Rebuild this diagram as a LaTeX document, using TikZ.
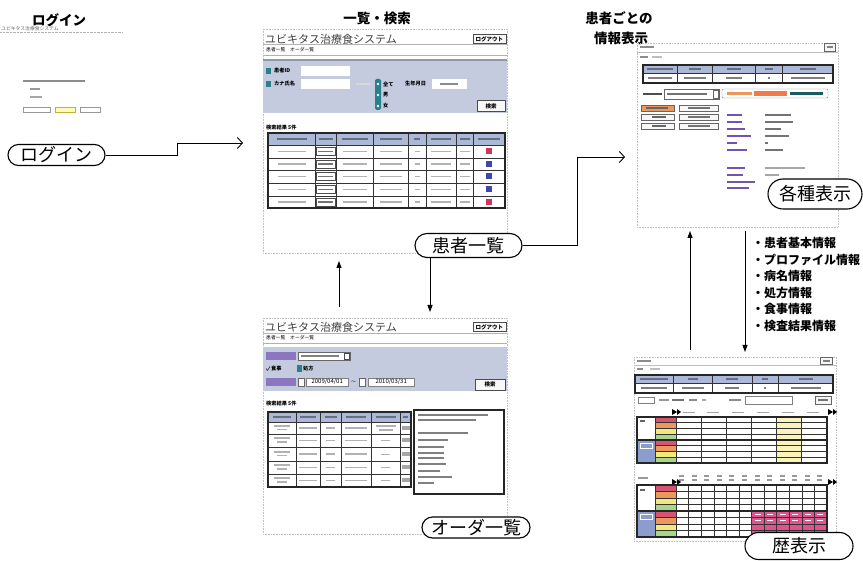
\documentclass[tikz,border=0pt]{standalone}
\usepackage{fontspec}
\setmainfont{Noto Sans CJK JP}
\usetikzlibrary{arrows.meta,shapes.misc}
\definecolor{panelblue}{RGB}{196,203,222}
\definecolor{headblue}{RGB}{172,184,216}
\definecolor{tealc}{RGB}{40,128,140}
\definecolor{purp}{RGB}{112,84,176}
\definecolor{swred}{RGB}{208,52,92}
\definecolor{swblue}{RGB}{62,72,172}
\definecolor{pinkc}{RGB}{226,82,142}
\definecolor{orangec}{RGB}{236,152,92}
\definecolor{yellowc}{RGB}{244,232,120}
\definecolor{greenc}{RGB}{168,214,140}
\definecolor{redc}{RGB}{214,84,112}
\definecolor{lyellow}{RGB}{250,244,186}
\definecolor{labblue}{RGB}{140,156,204}
\newcommand\mybar[4][gray!55]{\fill[#1] (#2,{#3-0.9}) rectangle ++(#4,1.8);}
\tikzset{
  pill/.style={draw=black, line width=1.1pt, rounded rectangle, fill=white, inner sep=0pt, font=\fontsize{18}{18}\selectfont},
  ttl/.style={font=\bfseries\fontsize{13.5}{14}\selectfont, inner sep=0pt},
  shot/.style={draw=gray!50, densely dotted, line width=0.6pt},
  conn/.style={line width=0.9pt, -{Straight Barb[length=5pt,width=11pt]}},
  vconn/.style={line width=0.9pt, -{Triangle[length=7pt,width=5pt]}},
  apptitle/.style={font=\fontsize{11}{12}\selectfont, text=black!75, inner sep=0pt, anchor=west},
  tinyt/.style={font=\fontsize{4.8}{5}\selectfont, inner sep=0pt, anchor=west},
  tinyb/.style={font=\bfseries\fontsize{5.2}{5.5}\selectfont, inner sep=0pt, anchor=west},
  btn/.style={draw=black!70, fill=gray!6, line width=0.5pt, inner sep=0pt, font=\bfseries\fontsize{5.5}{6}\selectfont},
  tline/.style={draw=black!80, line width=0.5pt},
  tborder/.style={draw=black!85, line width=1.3pt},
}
\begin{document}
\begin{tikzpicture}[x=1pt,y=-1pt]
\useasboundingbox[fill=white] (0,0) rectangle (863,561);

%================ titles
\node[ttl] (h1) at (59,20) {ログイン};
\node[ttl] (h2) at (377,18) {一覧・検索};
\node[ttl] (h3) at (619,18) {患者ごとの};
\node[ttl] (h4) at (621,38) {情報表示};

%================ login screen
\node[tinyt, text=black!60] (lt) at (1,29) {ユビキタス治療食システム};
\draw[gray!60, densely dotted] (0,32) -- (123,32);
\mybar[black!45]{23}{81}{62}
\mybar[black!40]{30}{89}{10}
\mybar[black!35]{30}{97}{12}
\draw[black!40, line width=0.3pt] (23,107) rectangle (50,112);
\draw[yellow!70!black, fill=yellow!30, line width=0.3pt] (55,107) rectangle (75,112);
\draw[black!40, line width=0.3pt] (80,107) rectangle (100,112);

%================ list / search screen
\draw[shot] (263,29) rectangle (507,253);
\node[apptitle] (t1) at (265,39) {ユビキタス治療食システム};
\node[btn, minimum width=33pt, minimum height=9pt, anchor=east] (lo1) at (506,39) {ログアウト};
\draw[gray!60] (263,44.5) -- (507,44.5);
\node[tinyt] (m1) at (266,50) {患者一覧　オーダ一覧};
\draw[gray!60] (263,55) -- (507,55);
\fill[panelblue] (263,59) rectangle (507,113);
\fill[panelblue!75!black] (263,59) rectangle (507,61);
\fill[tealc] (266,68) rectangle ++(5,6);
\node[tinyb] (l1) at (274,71) {患者ID};
\fill[white] (301,66) rectangle (350,76);
\fill[tealc] (266,81) rectangle ++(5,6);
\node[tinyb] (l2) at (274,84) {カナ氏名};
\fill[white] (301,79) rectangle (350,89);
\mybar[white!70!gray]{356}{84}{14}
\fill[tealc, rounded corners=1.5pt] (375,79) rectangle (381,110);
\foreach \yy in {84,95,106} {\fill[white] (378,\yy) circle (1.3);}
\node[tinyb] (l3) at (383,84) {全て};
\node[tinyb] (l4) at (383,95) {男};
\node[tinyb] (l5) at (383,106) {女};
\node[tinyb] (l6) at (405,84) {生年月日};
\fill[white] (432,79) rectangle (467,89);
\mybar[black!45]{440}{84}{18}
\node[btn, minimum width=28pt, minimum height=11pt] (s1) at (491,106) {検索};
\node[tinyb] (r1) at (266,128) {検索結果 5件};
\fill[headblue] (268,133) rectangle (505,145);
\foreach \y in {145,158,170,183,196} {\draw[tline] (268,\y) -- (505,\y);}
\foreach \x in {315,336,373,408,426,456,473} {\draw[tline] (\x,133) -- (\x,208);}
\foreach \cx/\w in {291.5/30,325.5/14,354.5/26,390.5/22,417/6,441/20,464.5/10,489/22}
  {\fill[black!40!headblue] ({\cx-\w/2},138) rectangle ({\cx+\w/2},140);}
\foreach \cx/\w in {291.5/28,354.5/24,390.5/22,417/5,441/20,464.5/10}
  {\foreach \cy in {151.5,164,176.5,189.5,202}
    {\fill[gray!60] ({\cx-\w/2},{\cy-0.9}) rectangle ({\cx+\w/2},{\cy+0.9});}}
\foreach \cy in {151.5,164,176.5,189.5,202} {
  \draw[black!70, line width=0.6pt] (316,{\cy-4}) rectangle (335,{\cy+4});
  \fill[black!55] (318,{\cy-0.9}) rectangle (333,{\cy+0.9});
}
\foreach \cy/\c in {151.5/swred,164/swblue,176.5/swblue,189.5/swblue,202/swred}
  {\fill[\c] (486,{\cy-3}) rectangle ++(6,6);}
\draw[tborder] (268,133) rectangle (505,208);

%================ order screen
\draw[shot] (263,318) rectangle (507,534);
\node[apptitle] (t2) at (265,327) {ユビキタス治療食システム};
\node[btn, minimum width=33pt, minimum height=9pt, anchor=east] (lo2) at (506,327) {ログアウト};
\draw[gray!60] (263,333) -- (507,333);
\node[tinyt] (m2) at (266,338) {患者一覧　オーダ一覧};
\draw[gray!60] (263,343) -- (507,343);
\fill[panelblue] (263,347) rectangle (507,391);
\fill[purp!80] (266,352) rectangle (296,360);
\draw[black!60, fill=white] (298,352) rectangle (350,360);
\mybar[black!50]{301}{356}{38}
\draw[black!70] (344,353) rectangle (349,359);
\draw[black!80, line width=0.6pt] (266,368.5) -- (267.5,370.5) -- (270,366.5);
\node[tinyb] (l7) at (271,369) {食事};
\fill[tealc] (297,365.5) rectangle ++(5,7);
\node[tinyb] (l8) at (303,369) {処方};
\fill[purp!80] (266,378) rectangle (296,386);
\draw[black!60, fill=white] (298,378) rectangle (304,386);
\node[draw=black!50, fill=white, font=\fontsize{6}{6}\selectfont, inner sep=0.5pt, minimum width=42pt, minimum height=8pt, anchor=west] (dt1) at (306,382) {2009/04/01};
\node[tinyt] (til) at (351,382) {〜};
\draw[black!60, fill=white] (359,378) rectangle (365,386);
\node[draw=black!50, fill=white, font=\fontsize{6}{6}\selectfont, inner sep=0.5pt, minimum width=46pt, minimum height=8pt, anchor=west] (dt2) at (368,382) {2010/03/31};
\node[btn, minimum width=30pt, minimum height=11pt] (s2) at (490,384.5) {検索};
\node[tinyb] (r2) at (266,404) {検索結果 5件};
\fill[headblue] (268,412) rectangle (411,422);
\foreach \y in {422,434,447,461,474} {\draw[tline] (268,\y) -- (411,\y);}
\foreach \x in {296,320,341,371,400} {\draw[tline] (\x,412) -- (\x,487);}
\foreach \cx/\w in {282/18,308/16,330.5/12,356/20,385.5/20,405.5/5}
  {\fill[black!40!headblue] ({\cx-\w/2},416) rectangle ({\cx+\w/2},418);}
\foreach \cy in {428,440.5,454,467.5,480.5} {
  \fill[gray!60] (274,{\cy-3}) rectangle (290,{\cy-1.4});
  \fill[gray!60] (277,{\cy+0.6}) rectangle (287,{\cy+2.2});
  \fill[gray!60] (299,{\cy-0.9}) rectangle (317,{\cy+0.9});
  \fill[gray!60] (326,{\cy-0.9}) rectangle (335,{\cy+0.9});
  \fill[gray!60] (345,{\cy-0.9}) rectangle (367,{\cy+0.9});
  \fill[gray!70] (401.5,{\cy-2}) rectangle (410,{\cy+2});
}
\fill[gray!60] (376,425) rectangle (396,427);
\fill[gray!60] (379,429) rectangle (393,431);
\foreach \cy in {440.5,454,467.5,480.5} {\fill[gray!60] (381,{\cy-0.4}) rectangle (390,{\cy+0.4});}
\draw[tborder] (268,412) rectangle (411,487);
\draw[tborder, fill=white] (414,410) rectangle (504,494);
\foreach \yy/\w in {415/70,420/58,433/50,440/30,447/26,453/26,458/26,464/28,471/22,477/34,483/16}
  {\mybar[black!50]{418}{\yy}{\w}}

%================ patient information screen
\draw[shot] (637,43) rectangle (838,227);
\mybar[black!45]{640}{47}{14}
\draw[black!60, fill=gray!8] (824,43.5) rectangle (835,51);
\mybar[black!50]{826.5}{47.3}{6}
\draw[gray!50] (637,52) -- (838,52);
\mybar[black!45]{640}{57}{8}
\mybar[black!25]{652}{57}{10}
\fill[headblue] (643,65) rectangle (833,73);
\draw[tline] (643,73) -- (833,73);
\foreach \x in {677,712,755,782} {\draw[tline] (\x,65) -- (\x,83);}
\foreach \cx/\w in {660/26,694.5/12,733.5/14,768.5/8,807.5/16}
  {\fill[black!40!headblue] ({\cx-\w/2},68) rectangle ({\cx+\w/2},70);}
\foreach \cx/\w in {660/24,694.5/22,733.5/16,768.5/2,807.5/34}
  {\fill[black!50] ({\cx-\w/2},77.1) rectangle ({\cx+\w/2},78.9);}
\draw[tborder] (643,65) rectangle (833,83);
\mybar[black!70]{643}{94}{19}
\draw[black!60, fill=white] (664,89) rectangle (719,99);
\mybar[black!55]{667}{94}{40}
\draw[black!60] (713,90) rectangle (718,98);
\foreach \yy in {105,114,123} {
  \draw[black!60, fill=gray!6] (641,\yy) rectangle (674,{\yy+6});
  \draw[black!60, fill=gray!6] (679,\yy) rectangle (718,{\yy+6});
}
\draw[black!60, fill=orangec] (641,105) rectangle (674,111);
\mybar[black!60]{646}{108}{22}
\foreach \yy in {114,123} {\mybar[black!60]{652}{\yy+3}{14}}
\foreach \yy in {105,114,123} {\mybar[black!55]{688}{\yy+3}{22}}
\draw[black!50, fill=white, rounded corners=1pt] (722,89) rectangle (828,98);
\fill[orangec] (727,92.5) rectangle (752,95);
\fill[orangec!80!red] (754,91.5) rectangle (787,96);
\fill[tealc!70!black] (790,92.5) rectangle (823,95);
\foreach \yy/\w/\v in {115/15/26,122/15/28,129/18/16,136/24/24,143/10/3,150/20/18}
  {\mybar[purp]{727}{\yy}{\w} \mybar[black!55]{765}{\yy}{\v}}
\foreach \yy/\w/\v in {168/18/40,175/16/14}
  {\mybar[purp]{727}{\yy}{\w} \mybar[black!35]{765}{\yy}{\v}}
\foreach \yy/\w in {182/28,188/22}
  {\mybar[purp]{727}{\yy}{\w}}

%================ history screen
\draw[shot] (634,357) rectangle (836,541);
\mybar[black!45]{637}{361}{14}
\draw[black!60, fill=gray!8] (820,357.5) rectangle (832,364);
\mybar[black!50]{822.5}{360.8}{7}
\draw[gray!50] (634,365) -- (836,365);
\mybar[black!45]{637}{369}{6}
\mybar[black!25]{650}{369}{10}
\fill[headblue] (635,375) rectangle (833,383);
\draw[tline] (635,383) -- (833,383);
\foreach \x in {673,712,752,778} {\draw[tline] (\x,375) -- (\x,393);}
\foreach \cx/\w in {654/28,692.5/10,732/12,765/6,805.5/14}
  {\fill[black!40!headblue] ({\cx-\w/2},378) rectangle ({\cx+\w/2},380);}
\foreach \cx/\w in {654/26,692.5/22,732/14,765/2,805.5/30}
  {\fill[black!50] ({\cx-\w/2},387.1) rectangle ({\cx+\w/2},388.9);}
\draw[tborder] (635,375) rectangle (833,393);
\draw[black!50] (638,397) rectangle (654,403);
\mybar[black!40]{659}{400}{10}
\mybar[black!55]{672}{400}{12}
\mybar[black!45]{689}{400}{8}
\mybar[black!35]{702}{400}{4}
\mybar[black!45]{729}{400}{12}
\draw[black!50] (745,396) rectangle (792,404);
\draw[black!60, fill=gray!8] (815,396) rectangle (831,404);
\mybar[black!55]{818}{400}{10}
% grid 1
\fill[lyellow] (776,417) rectangle (801,463);
\fill[labblue] (637,440) rectangle (655,463);
\draw[white, line width=0.6pt] (640,443) rectangle (652,448);
\mybar[black!60]{640}{421}{5}
\foreach \i/\c in {0/redc,1/orangec,2/yellowc,3/greenc} {
  \fill[\c] (655,{417+\i*5.75}) rectangle (676,{417+(\i+1)*5.75});
  \fill[\c] (655,{440+\i*5.75}) rectangle (676,{440+(\i+1)*5.75});
}
\foreach \i in {1,2,3} {
  \draw[tline] (655,{417+\i*5.75}) -- (827,{417+\i*5.75});
  \draw[tline] (655,{440+\i*5.75}) -- (827,{440+\i*5.75});
}
\foreach \x in {655,676,701,726,751,776,801} {\draw[tline] (\x,417) -- (\x,463);}
\draw[tborder] (637,440) -- (827,440);
\draw[tborder] (637,417) rectangle (827,463);
\foreach \x in {683,707,732,757,782,807} {\mybar[black!35]{\x}{412.5}{12}}
\fill[black] (672,409) -- (677,412) -- (672,415) -- cycle;
\fill[black] (677,409) -- (681,412) -- (677,415) -- cycle;
\fill[black] (828,409) -- (833,412) -- (828,415) -- cycle;
\fill[black] (833,409) -- (837,412) -- (833,415) -- cycle;
% grid 2
\mybar[black!40]{638}{478}{10}
\foreach \k in {0,...,11} {
  \fill[black!40] ({679+\k*12.583},475.5) rectangle ++(5,1.4);
  \fill[black!40] ({679+\k*12.583},479.5) rectangle ++(5,1.4);
}
\fill[black] (672,479) -- (677,482) -- (672,485) -- cycle;
\fill[black] (677,479) -- (681,482) -- (677,485) -- cycle;
\fill[black] (828,479) -- (833,482) -- (828,485) -- cycle;
\fill[black] (833,479) -- (837,482) -- (833,485) -- cycle;
\fill[pinkc] (751.5,511) rectangle (827,537);
\fill[labblue] (637,511) rectangle (655,537);
\draw[white, line width=0.6pt] (640,514) rectangle (652,519);
\mybar[black!60]{640}{490}{5}
\foreach \i/\c in {0/redc,1/orangec,2/yellowc,3/greenc} {
  \fill[\c] (655,{485+\i*6.5}) rectangle (676,{485+(\i+1)*6.5});
  \fill[\c] (655,{511+\i*6.5}) rectangle (676,{511+(\i+1)*6.5});
}
\foreach \i in {1,2,3} {
  \draw[tline] (655,{485+\i*6.5}) -- (827,{485+\i*6.5});
  \draw[tline] (655,{511+\i*6.5}) -- (827,{511+\i*6.5});
}
\draw[tline] (655,485) -- (655,537);
\foreach \k in {0,...,11} {\draw[tline] ({676+\k*12.583},485) -- ({676+\k*12.583},537);}
\foreach \k in {6,...,11} {
  \fill[white] ({679+\k*12.583},514) rectangle ++(6,1.2);
  \fill[white] ({679+\k*12.583},520) rectangle ++(6,1.2);
}
\draw[tborder] (637,511) -- (827,511);
\draw[tborder] (637,485) rectangle (827,537);

%================ buttons (pills)
\node[pill, minimum width=97pt, minimum height=21pt] (login) at (56.5,155) {ログイン};
\node[pill, minimum width=107pt, minimum height=24pt] (plist) at (468.5,245.5) {患者一覧};
\node[pill, minimum width=94pt, minimum height=30pt] (kind) at (815,194) {各種表示};
\node[pill, minimum width=108pt, minimum height=21pt] (order) at (476,527.5) {オーダ一覧};
\node[pill, minimum width=108pt, minimum height=27pt] (hist) at (799,546) {歴表示};

%================ list of information kinds
\node[anchor=north west, align=left, inner sep=0pt, font=\bfseries\fontsize{12}{16.6}\selectfont] (kinds) at (752,237) {・患者基本情報\\・プロファイル情報\\・病名情報\\・処方情報\\・食事情報\\・検査結果情報};

%================ connectors
\coordinate (e1) at (243,143);
\draw[conn] (login.east) -- ++(72,0) |- (e1);
\coordinate (e2) at (625,157);
\draw[conn] (plist.east) -- ++(55,0) |- (e2);
\coordinate (e3) at (430,312);
\draw[vconn] (plist.south -| e3) -- (e3);
\coordinate (u1) at (339,307);
\coordinate (u2) at (339,261);
\draw[vconn] (u1) -- (u2);
\coordinate (v1) at (690,350);
\coordinate (v2) at (690,231);
\draw[vconn] (v1) -- (v2);
\coordinate (w1) at (745,231);
\coordinate (w2) at (745,352);
\draw[vconn] (w1) -- (w2);
\end{tikzpicture}
\end{document}
